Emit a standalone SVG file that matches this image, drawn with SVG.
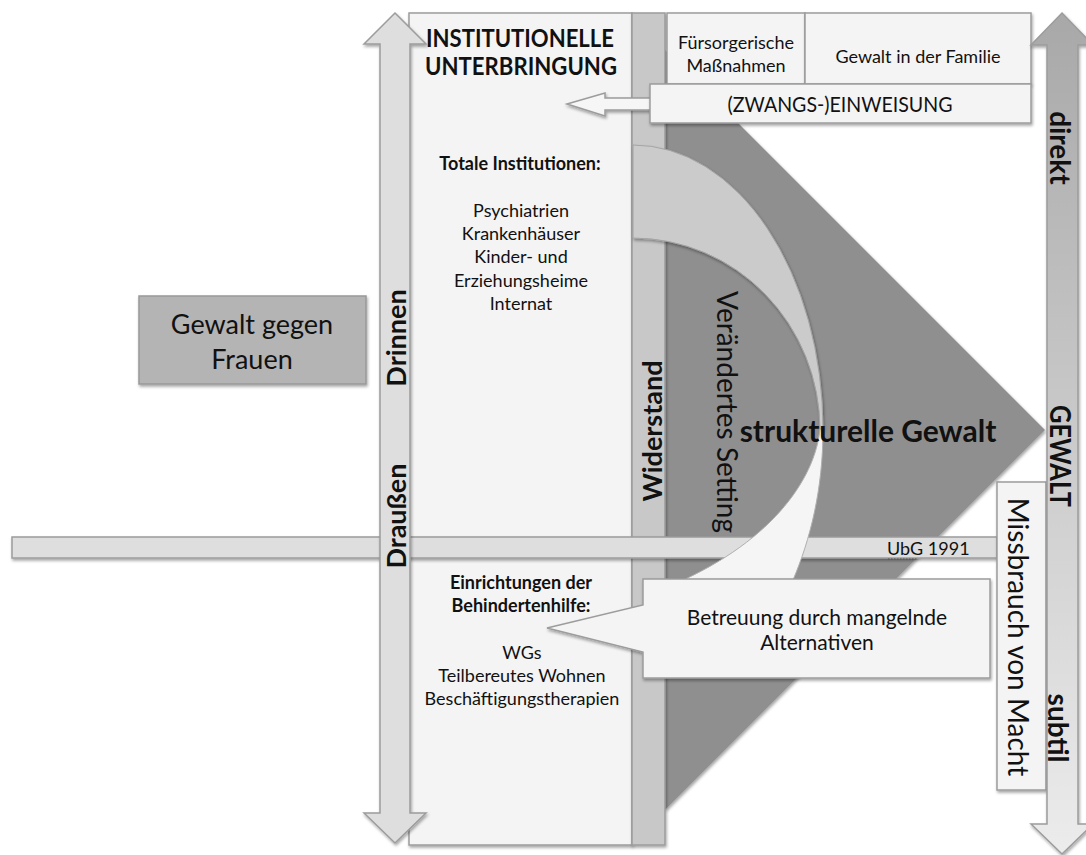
<svg xmlns="http://www.w3.org/2000/svg" width="1086" height="855" viewBox="0 0 1086 855">
<defs>
<filter id="sh" x="-20%" y="-50%" width="140%" height="200%">
<feDropShadow dx="1" dy="2" stdDeviation="1.5" flood-color="#000" flood-opacity="0.35"/>
</filter>
<linearGradient id="rg" x1="0" y1="0" x2="0" y2="1">
<stop offset="0" stop-color="#a8a8a8"/>
<stop offset="1" stop-color="#ececec"/>
</linearGradient>
</defs>
<style>
text{font-family:Lato,"Liberation Sans",sans-serif;fill:#111;}
.b{font-weight:bold;}
.m{text-anchor:middle;}
.box{fill:#f4f4f4;stroke:#9c9c9c;stroke-width:1.5;filter:url(#sh);}
.ln{fill:#dedede;stroke:#9c9c9c;stroke-width:1.5;filter:url(#sh);}
.s18{font-size:18px;}
.s21{font-size:21px;}
.s27{font-size:27px;}
</style>
<rect width="1086" height="855" fill="#ffffff"/>

<g id="strukturelle-gewalt-shape">
<polygon points="665,50 1045,430 665,810" fill="#8f8f8f" filter="url(#sh)"/>
</g>

<g id="institutionelle-unterbringung">
<rect class="box" x="409" y="13" width="223" height="832"/>
<text class="b m" x="520" y="47" font-size="24" textLength="188" lengthAdjust="spacingAndGlyphs">INSTITUTIONELLE</text>
<text class="b m" x="521" y="75" font-size="24" textLength="192" lengthAdjust="spacingAndGlyphs">UNTERBRINGUNG</text>
<text class="b m s18" x="520" y="170">Totale Institutionen:</text>
<text class="m s18" x="521" y="217">Psychiatrien</text>
<text class="m s18" x="521" y="240">Krankenhäuser</text>
<text class="m s18" x="521" y="263">Kinder- und</text>
<text class="m s18" x="521" y="287">Erziehungsheime</text>
<text class="m s18" x="521" y="310">Internat</text>
<text class="b m s18" x="521" y="589">Einrichtungen der</text>
<text class="b m s18" x="521" y="612">Behindertenhilfe:</text>
<text class="m s18" x="522" y="659">WGs</text>
<text class="m s18" x="522" y="682">Teilbereutes Wohnen</text>
<text class="m s18" x="522" y="705">Beschäftigungstherapien</text>
</g>

<g id="widerstand">
<rect x="632" y="13" width="33" height="832" fill="#c8c8c8" stroke="#9c9c9c" stroke-width="1.5" filter="url(#sh)"/>
<text class="b m s27" transform="translate(662,431) rotate(-90)">Widerstand</text>
</g>

<g id="ubg-1991">
<rect class="ln" x="12" y="537" width="985" height="21"/>
<text class="s18" x="887" y="555">UbG 1991</text>
<line x1="888" y1="559" x2="918" y2="559" stroke="#555" stroke-width="1" stroke-dasharray="1.5,1.5"/>
</g>

<g id="drinnen-draussen">
<path class="ln" d="M395,13 L426,44 L410,44 L410,813 L426,813 L395,843 L364,813 L380,813 L380,44 L364,44 Z"/>
<text class="b m s27" transform="translate(406,338) rotate(-90)">Drinnen</text>
<text class="b m s27" transform="translate(406,516) rotate(-90)">Draußen</text>
</g>

<g id="connectors">
<path d="M567,104 L605,93 L605,98 L652,98 L652,110 L605,110 L605,116 Z" fill="#f6f6f6" stroke="#9c9c9c" stroke-width="1.5" filter="url(#sh)"/>
<path d="M633,145 A190,285 0 0 1 823,430 L820,430 A187,192 0 0 0 633,238 Z" fill="#cbcbcb" stroke="#a4a4a4" stroke-width="1" filter="url(#sh)"/>
<path d="M820,429 C815,480 770,545 665,588 L665,600 L787,600 L793,580 C810,540 823,490 823,429 Z" fill="#f5f5f5" stroke="#b0b0b0" stroke-width="1"/>
<text class="m" font-size="28" transform="translate(717,412) rotate(90)">Verändertes Setting</text>
</g>

<g id="strukturelle-gewalt-label">
<text class="b m" x="868" y="442" font-size="30">strukturelle Gewalt</text>
</g>

<g id="betreuung">
<path class="box" d="M643,579 H990 V678 H643 V652 L547,628 L643,605 Z"/>
<text class="m s21" x="817" y="625">Betreuung durch mangelnde</text>
<text class="m s21" x="817" y="650">Alternativen</text>
</g>

<g id="fuersorgerische-massnahmen">
<rect class="box" x="667" y="13" width="138" height="71"/>
<text class="m s18" x="736" y="49">Fürsorgerische</text>
<text class="m s18" x="736" y="72">Maßnahmen</text>
</g>

<g id="gewalt-in-der-familie">
<rect class="box" x="805" y="13" width="226" height="71"/>
<text class="m s18" x="918" y="63">Gewalt in der Familie</text>
</g>

<g id="zwangseinweisung">
<rect class="box" x="650" y="84" width="381" height="39"/>
<text class="m" x="840" y="112" font-size="21" textLength="225" lengthAdjust="spacingAndGlyphs">(ZWANGS-)EINWEISUNG</text>
</g>

<g id="missbrauch-von-macht">
<rect class="box" x="997" y="482" width="49" height="308"/>
<text class="m" font-size="28" transform="translate(1008,637) rotate(90)">Missbrauch von Macht</text>
</g>

<g id="gewalt-achse">
<path d="M1062,13 L1093,45 L1078,45 L1078,824 L1093,824 L1062,854 L1031,824 L1047,824 L1047,45 L1031,45 Z" fill="url(#rg)" stroke="#9c9c9c" stroke-width="1.5" filter="url(#sh)"/>
<text class="b m" font-size="28" transform="translate(1050,148) rotate(90)">direkt</text>
<text class="b m" font-size="28" transform="translate(1050,456) rotate(90)" textLength="102" lengthAdjust="spacingAndGlyphs">GEWALT</text>
<text class="b m" font-size="28" transform="translate(1048,728) rotate(90)">subtil</text>
</g>

<g id="gewalt-gegen-frauen">
<rect x="139" y="296" width="227" height="88" fill="#b4b4b4" stroke="#999" stroke-width="1.5" filter="url(#sh)"/>
<text class="m s27" x="252" y="334">Gewalt gegen</text>
<text class="m s27" x="252" y="369">Frauen</text>
</g>
</svg>
